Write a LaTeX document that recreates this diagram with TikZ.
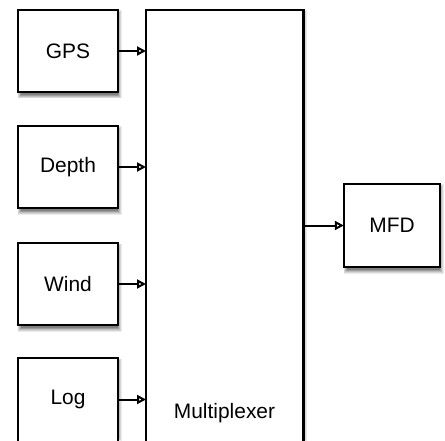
\documentclass[tikz,border=0pt]{standalone}
\usepackage{fontspec}
\setmainfont{Liberation Sans}
\usetikzlibrary{arrows.meta}
\begin{document}
\begin{tikzpicture}[x=1bp,y=1bp,
  boxfill/.style={fill=white, minimum width=100bp, minimum height=82bp, inner sep=0pt,
    font=\fontsize{21}{25}\selectfont},
  edge/.style={draw=black, line width=2.4bp, line join=miter},
  arr/.style={line width=2bp, -{Triangle[open, length=9bp, width=9bp]}},
  lbl/.style={font=\fontsize{21}{25}\selectfont}
]
\useasboundingbox (0,0) rectangle (445,-441);
\fill[white] (0,0) rectangle (445,-441);
% soft drop shadows (x1,y1 top-left; x2,y2 bottom-right)
\foreach \xa/\ya/\xb/\yb in {146/-10/303/-434.5, 18/-10/118/-92, 18/-126/118/-208, 18/-243/118/-325, 18/-358/118/-434.5, 344/-184/440/-267}{
  \foreach \i/\c in {0/8,1/16,2/26,3/38,4/50}{
    \fill[black!\c] (\xa-0.5+\i*0.9,\ya-0.5-\i*0.9) rectangle (\xb+3.5-\i*0.9,\yb-6.5+\i*0.9);
  }
}
\node[boxfill, minimum width=157bp, minimum height=431bp, anchor=north west] (mux) at (146,-10) {};
\draw[edge] (mux.south west) |- (mux.north east) -- (mux.south east);
\node[lbl] (muxlbl) at (224.5,-413) {Multiplexer};
\node[boxfill] (gps) at (68,-51) {GPS};
\draw[edge] (gps.south west) rectangle (gps.north east);
\node[boxfill] (depth) at (68,-167) {Depth};
\draw[edge] (depth.south west) rectangle (depth.north east);
\node[boxfill] (wind) at (68,-284) {Wind};
\draw[edge] (wind.south west) rectangle (wind.north east);
\node[boxfill, minimum height=83bp] (log) at (68,-399.5) {Log};
\draw[edge] (log.south west) |- (log.north east) -- (log.south east);
\node[boxfill, minimum width=96bp, minimum height=83bp] (mfd) at (392,-225.5) {MFD};
\draw[edge] (mfd.south west) rectangle (mfd.north east);
\foreach \n in {gps,depth,wind,log}{
  \draw[arr] (\n.east) -- (\n.east -| mux.west);
}
\draw[arr] (mfd.west -| mux.east) -- (mfd.west);
\end{tikzpicture}
\end{document}
